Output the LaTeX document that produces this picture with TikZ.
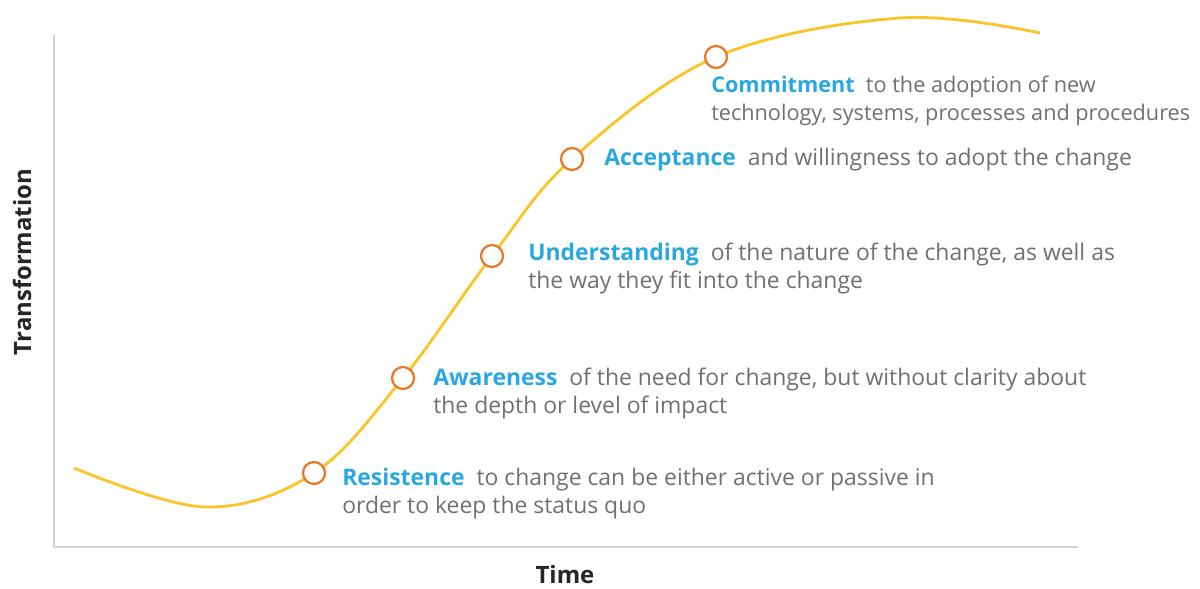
\documentclass[tikz,border=0pt]{standalone}
\usepackage{fontspec}
\setmainfont{Open Sans}
\definecolor{curveyellow}{RGB}{251,196,40}
\definecolor{dotorange}{RGB}{230,120,40}
\definecolor{stageblue}{RGB}{41,168,224}
\definecolor{textgrey}{RGB}{112,112,112}
\definecolor{axisgrey}{RGB}{210,210,210}
\begin{document}
\begin{tikzpicture}[x=0.025cm,y=-0.025cm]
\tikzstyle{stagedot}=[circle,draw=dotorange,fill=white,line width=1.6pt,minimum size=0.55cm,inner sep=0pt]
\tikzstyle{stagetext}=[anchor=north west,align=left,inner sep=0pt,text=textgrey,font=\fontsize{16.3}{19.8}\selectfont]
\tikzstyle{axislabel}=[font=\fontsize{17}{20}\selectfont\bfseries,text=black!85]
\newcommand{\stage}[1]{\textbf{\color{stageblue}#1}\ }
    \useasboundingbox (0,0) rectangle (1200,589);
    \node (o) at (54,547) {};
    \coordinate (ytop) at (54,35);
    \coordinate (xend) at (1078,547);
    \draw [axisgrey,line width=2pt] (ytop) -- (o.center) -- (xend);
    \draw [curveyellow,line width=2pt] plot [smooth,tension=0.6] coordinates
        {(74,468) (205,507) (314,473) (403,378) (492,256) (572,159) (716,57) (900,18) (1040,33)};
    \node [stagedot] (res) at (314,473) {};
    \node [stagedot] (awa) at (403,378) {};
    \node [stagedot] (und) at (492,256) {};
    \node [stagedot] (acc) at (572,159) {};
    \node [stagedot] (com) at (716,57) {};
    \node [stagetext] (restext) at (342,468) {\stage{Resistence} to change can be either active or passive in\\order to keep the status quo};
    \node [stagetext] (awatext) at (433,368) {\stage{Awareness} of the need for change, but without clarity about\\the depth or level of impact};
    \node [stagetext] (undtext) at (528,243) {\stage{Understanding} of the nature of the change, as well as\\the way they fit into the change};
    \node [stagetext] (acctext) at (604,148) {\stage{Acceptance} and willingness to adopt the change};
    \node [stagetext,font=\fontsize{15.4}{19.8}\selectfont] (comtext) at (711,76) {\stage{Commitment} to the adoption of new\\technology, systems, processes and procedures};
    \node [axislabel,rotate=90] (ylab) at (22,262) {Transformation};
    \node [axislabel] (xlab) at (565,575) {Time};
\end{tikzpicture}
\end{document}
